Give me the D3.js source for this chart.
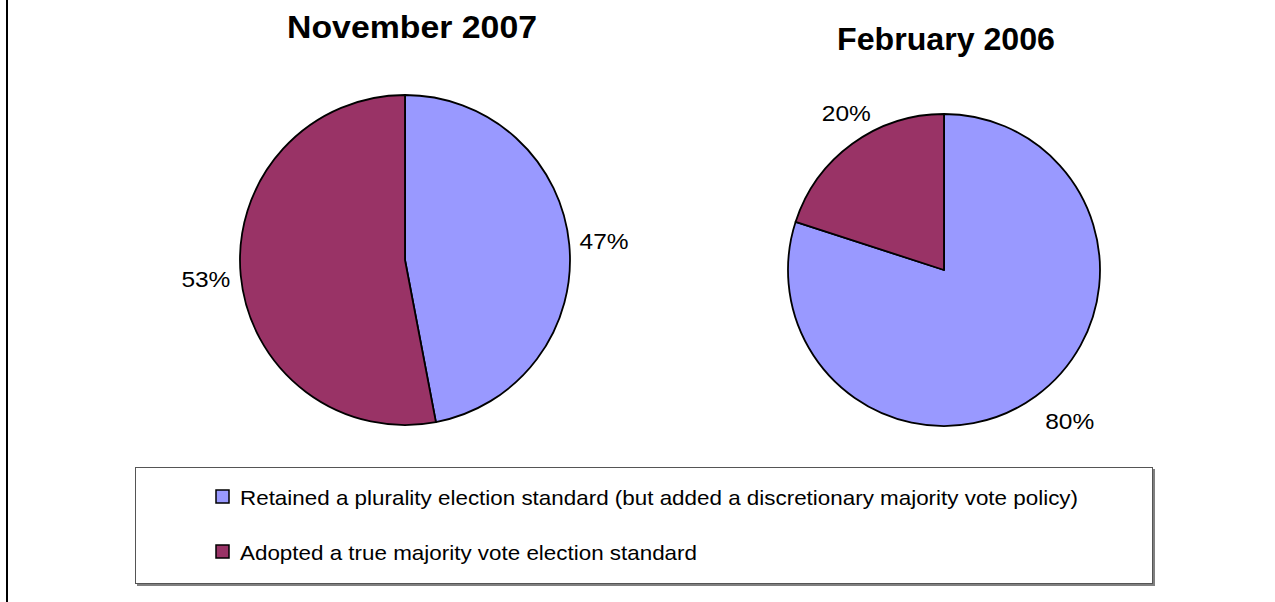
<!DOCTYPE html>
<html>
<head>
<meta charset="utf-8">
<script src="https://cdn.jsdelivr.net/npm/d3@7/dist/d3.min.js"></script>
<style>
  html, body { margin: 0; padding: 0; background: #fff; }
  svg { display: block; }
  text { font-family: "Liberation Sans", Arial, sans-serif; fill: #000; }
</style>
</head>
<body>
<svg id="chart" width="1275" height="602"></svg>
<script>
// ---- data ----
const categories = [
  "Retained a plurality election standard (but added a discretionary majority vote policy)",
  "Adopted a true majority vote election standard"
];
const chartTitles = ["November 2007", "February 2006"];
const nov2007 = [47, 53];
const feb2006 = [80, 20];
const colors = ["#9999FF", "#993366"];

// ---- layout ----
const svg = d3.select("#chart");
const W = 1275, H = 602;

// outer frame left edge
svg.append("line").attr("x1", 7).attr("x2", 7).attr("y1", 0).attr("y2", H)
  .attr("stroke", "#000").attr("stroke-width", 2);

const pies = [
  { title: chartTitles[0], values: nov2007, cx: 405, cy: 260, r: 165,
    titleX: 412, titleY: 38, titleW: 250, labelR: 200, labelDx: 0, labelDy: 0 },
  { title: chartTitles[1], values: feb2006, cx: 944, cy: 270, r: 156,
    titleX: 946, titleY: 50, titleW: 218, labelR: 190, labelDx: 14, labelDy: -3 }
];

const pie = d3.pie().sort(null).value(d => d);

pies.forEach(p => {
  const g = svg.append("g").attr("transform", `translate(${p.cx},${p.cy})`);
  const arcs = pie(p.values);
  const arc = d3.arc().innerRadius(0).outerRadius(p.r);
  g.selectAll("path").data(arcs).enter().append("path")
    .attr("d", arc)
    .attr("fill", (d, i) => colors[i])
    .attr("stroke", "#000")
    .attr("stroke-width", 1.8)
    .attr("stroke-linejoin", "round");

  const labelArc = d3.arc().innerRadius(p.labelR).outerRadius(p.labelR);
  g.selectAll("text.lbl").data(arcs).enter().append("text")
    .attr("class", "lbl")
    .attr("x", d => labelArc.centroid(d)[0] + p.labelDx)
    .attr("y", d => labelArc.centroid(d)[1] + 8 + p.labelDy)
    .attr("text-anchor", "middle")
    .attr("font-size", 22.5)
    .attr("textLength", 49)
    .attr("lengthAdjust", "spacingAndGlyphs")
    .text(d => d.data + "%");

  svg.append("text")
    .attr("x", p.titleX).attr("y", p.titleY)
    .attr("text-anchor", "middle")
    .attr("font-size", 30.5).attr("font-weight", "bold")
    .attr("textLength", p.titleW)
    .attr("lengthAdjust", "spacingAndGlyphs")
    .text(p.title);
});

// legend
const lg = svg.append("g");
// shadow
lg.append("rect").attr("x", 137).attr("y", 469).attr("width", 1018).attr("height", 117)
  .attr("fill", "#808080");
lg.append("rect").attr("x", 135.5).attr("y", 467.5).attr("width", 1017).attr("height", 116)
  .attr("fill", "#fff").attr("stroke", "#555").attr("stroke-width", 1);

const legendY = d3.scalePoint().domain(categories).range([497, 552]);
const legendW = [838, 457];
categories.forEach((c, i) => {
  const y = legendY(c);
  lg.append("rect").attr("x", 216).attr("y", y - 7).attr("width", 13).attr("height", 13)
    .attr("fill", colors[i]).attr("stroke", "#000").attr("stroke-width", 1.5);
  lg.append("text").attr("x", 240).attr("y", y + 7.5)
    .attr("font-size", 21)
    .attr("textLength", legendW[i])
    .attr("lengthAdjust", "spacingAndGlyphs")
    .text(c);
});
</script>
</body>
</html>
